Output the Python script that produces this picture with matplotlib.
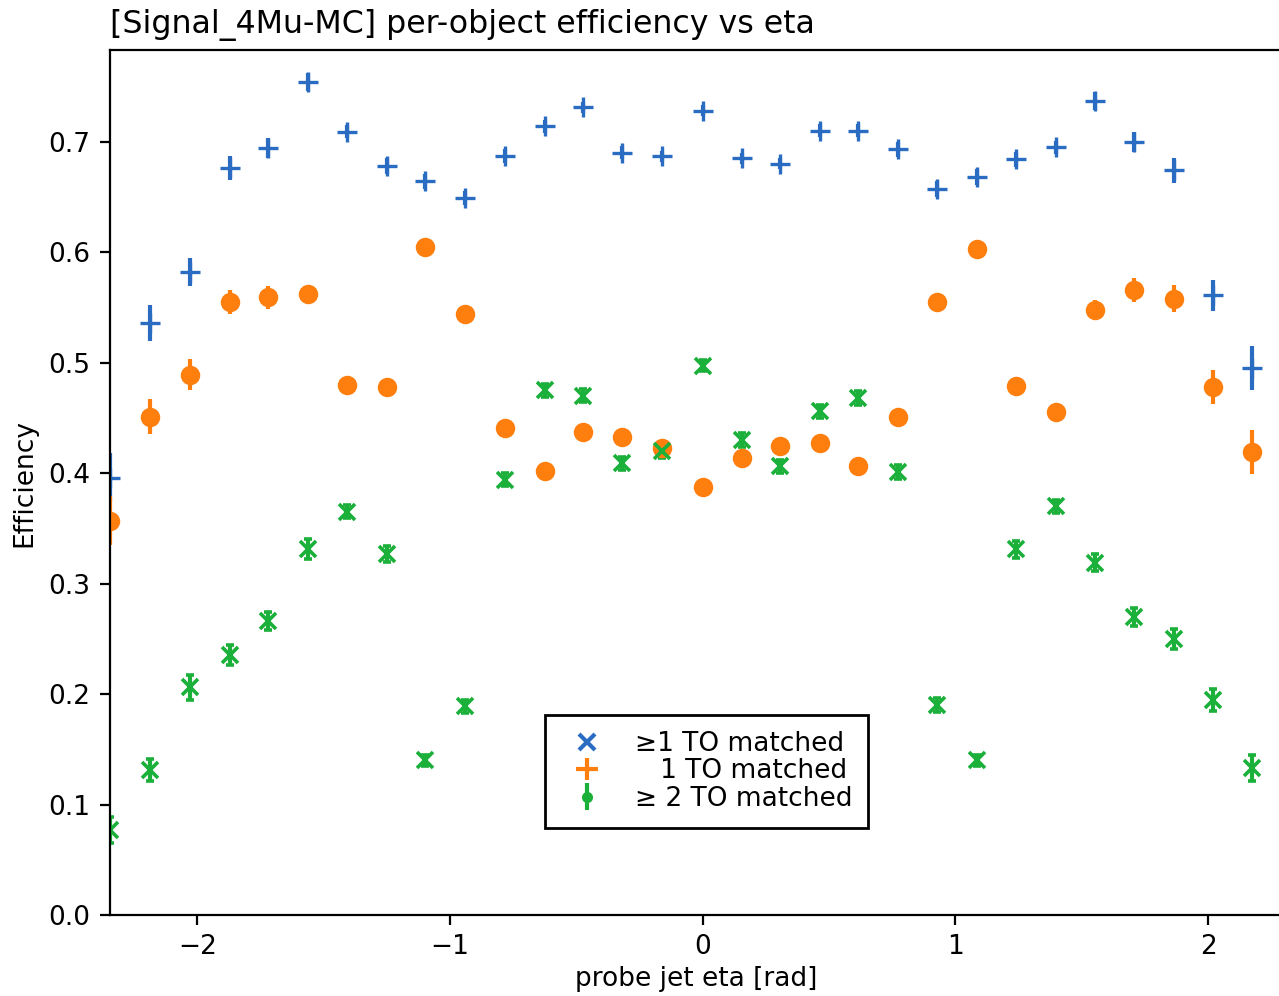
from matplotlib import pyplot as plt
from matplotlib.lines import Line2D

plt.rcParams['font.size'] = 9.5

# eta bin centres
eta = [-2.344, -2.186, -2.028, -1.869, -1.719, -1.561, -1.407, -1.249, -1.098, -0.940,
       -0.781, -0.623, -0.473, -0.318, -0.160, 0.002, 0.156, 0.307, 0.465, 0.615,
       0.773, 0.927, 1.085, 1.240, 1.398, 1.553, 1.707, 1.866, 2.020, 2.174]

eff_ge1 = [0.396, 0.536, 0.582, 0.676, 0.694, 0.754, 0.709, 0.678, 0.664, 0.649,
           0.687, 0.714, 0.731, 0.690, 0.687, 0.728, 0.685, 0.680, 0.710, 0.710,
           0.693, 0.657, 0.668, 0.684, 0.695, 0.737, 0.700, 0.674, 0.561, 0.495]
err_ge1 = [0.022, 0.016, 0.013, 0.011, 0.009, 0.008, 0.006, 0.007, 0.007, 0.006,
           0.006, 0.006, 0.005, 0.006, 0.005, 0.005, 0.005, 0.005, 0.006, 0.006,
           0.007, 0.007, 0.007, 0.007, 0.006, 0.008, 0.009, 0.011, 0.014, 0.020]

eff_1 = [0.357, 0.451, 0.489, 0.555, 0.559, 0.562, 0.480, 0.478, 0.605, 0.544,
         0.441, 0.402, 0.437, 0.433, 0.423, 0.387, 0.414, 0.425, 0.427, 0.406,
         0.451, 0.555, 0.603, 0.479, 0.455, 0.548, 0.566, 0.558, 0.478, 0.419]
err_1 = [0.022, 0.016, 0.014, 0.011, 0.010, 0.008, 0.007, 0.007, 0.007, 0.006,
         0.006, 0.006, 0.006, 0.006, 0.006, 0.005, 0.006, 0.006, 0.006, 0.006,
         0.007, 0.007, 0.007, 0.007, 0.007, 0.009, 0.011, 0.012, 0.015, 0.020]

eff_ge2 = [0.077, 0.131, 0.206, 0.235, 0.266, 0.331, 0.365, 0.327, 0.140, 0.189,
           0.394, 0.475, 0.470, 0.409, 0.420, 0.497, 0.430, 0.406, 0.456, 0.468,
           0.401, 0.190, 0.140, 0.331, 0.370, 0.319, 0.270, 0.250, 0.195, 0.133]
err_ge2 = [0.012, 0.010, 0.011, 0.009, 0.008, 0.009, 0.006, 0.007, 0.005, 0.006,
           0.006, 0.006, 0.006, 0.006, 0.006, 0.005, 0.006, 0.006, 0.006, 0.006,
           0.006, 0.006, 0.005, 0.008, 0.006, 0.008, 0.008, 0.009, 0.010, 0.012]

c_blue = '#2a6cc2'
c_orange = '#ff7f0e'
c_green = '#1bb03a'

fig = plt.figure(figsize=(6.395, 4.98), dpi=200)
ax = fig.add_axes([0.086, 0.0813, 0.916, 0.8685])

ax.errorbar(eta, eff_ge1, yerr=err_ge1, fmt='+', color=c_blue, ms=7.5, mew=1.2, elinewidth=1.5)
ax.errorbar(eta, eff_1, yerr=err_1, fmt='o', color=c_orange, ms=6, elinewidth=1.5)
ax.errorbar(eta, eff_ge2, yerr=err_ge2, fmt='x', color=c_green, ms=6, mew=1.3,
            elinewidth=1.5, capsize=1.5)

ax.set_xlim(-2.345, 2.29)
ax.set_ylim(0, 0.783)
ax.set_xlabel('probe jet eta [rad]', labelpad=2)
ax.set_ylabel('Efficiency')
ax.set_title('[Signal_4Mu-MC] per-object efficiency vs eta', loc='left', fontsize=11.4)

h1 = Line2D([], [], color=c_blue, marker='x', linestyle='none', ms=6, mew=1.5)
h2 = Line2D([], [], color=c_orange, marker='+', linestyle='none', ms=8, mew=1.5)
h3 = ax.errorbar([], [], yerr=[], fmt='.', color=c_green)
leg = ax.legend([h1, h2, h3], ['\u22651 TO matched', '   1 TO matched', '\u2265 2 TO matched'],
                loc='center', bbox_to_anchor=(0.509, 0.166), fancybox=False,
                edgecolor='black', framealpha=1, borderpad=0.6, labelspacing=0.05)
leg.get_frame().set_linewidth(1.0)

plt.savefig('out.png')
